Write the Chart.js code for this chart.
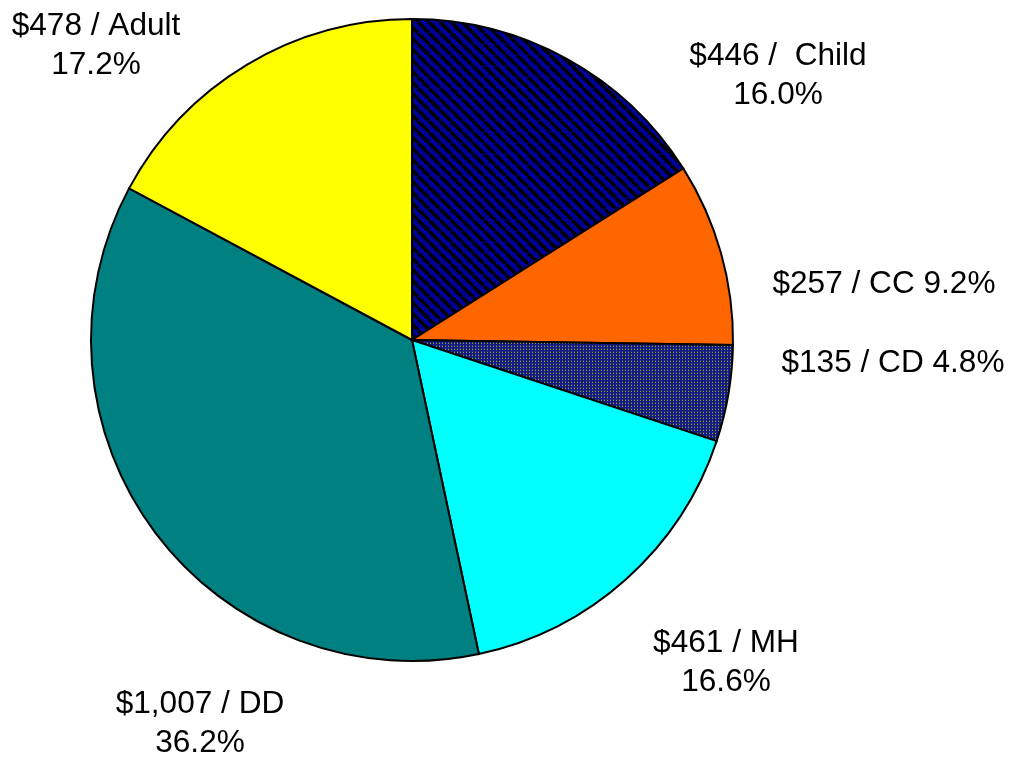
<!DOCTYPE html>
<html>
<head>
<meta charset="utf-8">
<script src="https://cdn.jsdelivr.net/npm/chart.js@4.4.1/dist/chart.umd.min.js"></script>
<style>
html,body{margin:0;padding:0;background:#fff;}
canvas{display:block;}
</style>
</head>
<body>
<canvas id="c" width="1013" height="759"></canvas>
<script>
// ---- data ----
const categories = ["Child", "CC", "CD", "MH", "DD", "Adult"];
const amounts = [446, 257, 135, 461, 1007, 478];
const amountLabels = ["$446", "$257", "$135", "$461", "$1,007", "$478"];
const percentLabels = ["16.0%", "9.2%", "4.8%", "16.6%", "36.2%", "17.2%"];

// ---- patterns ----
function hatchPattern() {
  const s = 11;
  const p = document.createElement('canvas');
  p.width = s; p.height = s;
  const g = p.getContext('2d');
  g.fillStyle = '#000098';
  g.fillRect(0, 0, s, s);
  g.strokeStyle = '#000000';
  g.lineWidth = 3.4;
  for (const x0 of [-s, 0, s]) {
    g.beginPath();
    g.moveTo(x0, 0);
    g.lineTo(x0 + s, s);
    g.stroke();
  }
  return g.createPattern(p, 'repeat');
}
function dotPattern() {
  const p = document.createElement('canvas');
  p.width = 3; p.height = 3;
  const g = p.getContext('2d');
  g.fillStyle = '#141a88';
  g.fillRect(0, 0, 3, 3);
  g.fillStyle = '#8ca818';
  g.fillRect(1, 1, 1, 1);
  g.fillStyle = '#3a4660';
  g.fillRect(1, 0, 1, 1);
  return g.createPattern(p, 'repeat');
}

const fills = [hatchPattern(), '#ff6600', dotPattern(), '#00ffff', '#008080', '#ffff00'];

// label layout: lines, and anchor offsets from pie center (center x, first baseline)
const labelLines = categories.map((c, i) => {
  if (c === 'Child') return [amountLabels[i] + ' /  ' + c, percentLabels[i]];
  if (c === 'CC' || c === 'CD') return [amountLabels[i] + ' / ' + c + ' ' + percentLabels[i]];
  return [amountLabels[i] + ' / ' + c, percentLabels[i]];
});
const labelAnchor = [
  [366, -275],  // Child
  [472, -47],   // CC
  [481, 32],    // CD
  [314, 312],   // MH
  [-212, 373],  // DD
  [-316, -305]  // Adult
];

const labelPlugin = {
  id: 'sliceLabels',
  afterDraw(chart) {
    const ctx = chart.ctx;
    const meta = chart.getDatasetMeta(0);
    ctx.save();
    ctx.font = '31.6px "Liberation Sans", Arial, sans-serif';
    ctx.fillStyle = '#000';
    ctx.textAlign = 'center';
    ctx.textBaseline = 'alphabetic';
    meta.data.forEach((arc, i) => {
      const cx = arc.x + labelAnchor[i][0];
      const cy = arc.y + labelAnchor[i][1];
      labelLines[i].forEach((t, j) => {
        ctx.fillText(t, cx, cy + j * 38.5);
      });
    });
    ctx.restore();
  }
};

new Chart(document.getElementById('c'), {
  type: 'pie',
  data: {
    labels: categories,
    datasets: [{
      data: amounts,
      backgroundColor: fills,
      borderColor: '#000000',
      borderWidth: 2,
      borderJoinStyle: 'miter'
    }]
  },
  options: {
    responsive: false,
    animation: false,
    layout: { padding: { left: 90, right: 279, top: 18, bottom: 97 } },
    plugins: { legend: { display: false }, tooltip: { enabled: false } }
  },
  plugins: [labelPlugin]
});
</script>
</body>
</html>
